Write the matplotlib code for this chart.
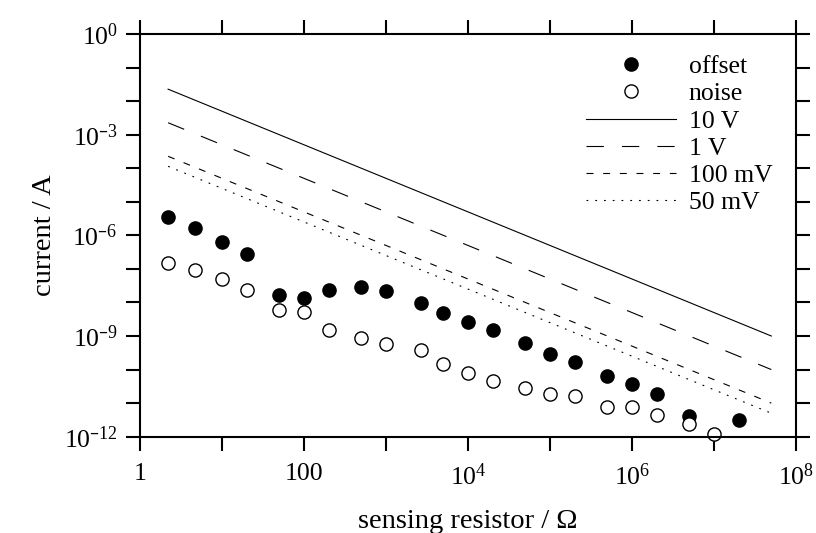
import matplotlib
matplotlib.use("Agg")
import matplotlib.pyplot as plt
from matplotlib.ticker import FixedLocator, FixedFormatter, NullLocator

r_offset = [2.2, 4.7, 10, 20, 50, 100, 200, 500, 1e3, 2.7e3, 5e3, 1e4, 2e4, 5e4,
            1e5, 2e5, 5e5, 1e6, 2e6, 5e6, 2e7]
i_offset = [3.5e-6, 1.66e-6, 6.5e-7, 2.8e-7, 1.7e-8, 1.35e-8, 2.3e-8, 2.9e-8, 2.2e-8,
            9.5e-9, 4.9e-9, 2.6e-9, 1.55e-9, 6.3e-10, 3e-10, 1.65e-10, 6.6e-11,
            3.8e-11, 1.9e-11, 4e-12, 3.2e-12]

r_noise = [2.2, 4.7, 10, 20, 50, 100, 200, 500, 1e3, 2.7e3, 5e3, 1e4, 2e4, 5e4,
           1e5, 2e5, 5e5, 1e6, 2e6, 5e6, 1e7]
i_noise = [1.5e-7, 9e-8, 4.9e-8, 2.3e-8, 5.8e-9, 5.2e-9, 1.55e-9, 8.7e-10, 5.7e-10,
           3.9e-10, 1.45e-10, 8e-11, 4.7e-11, 2.9e-11, 1.9e-11, 1.6e-11, 7.8e-12,
           7.5e-12, 4.4e-12, 2.4e-12, 1.2e-12]

# voltage limit lines (end points)
r_line = [2.2, 5e7]
i_10v = [2.27e-2, 1e-9]
i_1v = [2.27e-3, 1e-10]
i_100mv = [2.27e-4, 1e-11]
i_50mv = [1.14e-4, 5e-12]

x_ticks = [1, 10, 100, 1e3, 1e4, 1e5, 1e6, 1e7, 1e8]
x_labels = ["1", "", "100", "", r"$10^{4}$", "", r"$10^{6}$", "", r"$10^{8}$"]
y_ticks = [10.0 ** k for k in range(-12, 1)]
y_labels = [r"$10^{%d}$" % k if k % 3 == 0 else "" for k in range(-12, 1)]
y_labels = [s.replace("-", "\u2013") for s in y_labels]


def main():
    plt.rcParams["font.family"] = ["Liberation Serif", "DejaVu Serif"]
    plt.rcParams["mathtext.default"] = "regular"
    plt.rcParams["lines.scale_dashes"] = False
    fs = 18.5
    fs_lab = 20.5

    fig = plt.figure(figsize=(8.16, 5.33), dpi=100)
    ax = fig.add_axes([0.1716, 0.1807, 0.9755 - 0.1716, 0.9362 - 0.1807])

    lw = 0.8
    ax.plot(r_line, i_10v, color="black", lw=lw, label="10 V")
    ax.plot(r_line, i_1v, color="black", lw=lw, dashes=(12.5, 13), label="1 V")
    ax.plot(r_line, i_100mv, color="black", lw=lw, dashes=(5, 7), label="100 mV")
    ax.plot(r_line, i_50mv, color="black", lw=lw, dashes=(1.3, 5), label="50 mV")

    ax.plot(r_offset, i_offset, "o", color="black", ms=9.5, label="offset", clip_on=False)
    ax.plot(r_noise, i_noise, "o", mfc="white", mec="black", mew=1.0, ms=9.5,
            label="noise", clip_on=False)

    ax.set_xscale("log")
    ax.set_yscale("log")
    ax.set_xlim(1, 1e8)
    ax.set_ylim(1e-12, 1)

    ax.xaxis.set_major_locator(FixedLocator(x_ticks))
    ax.xaxis.set_major_formatter(FixedFormatter(x_labels))
    ax.xaxis.set_minor_locator(NullLocator())
    ax.yaxis.set_major_locator(FixedLocator(y_ticks))
    ax.yaxis.set_major_formatter(FixedFormatter(y_labels))
    ax.yaxis.set_minor_locator(NullLocator())

    ax.tick_params(which="both", direction="out", length=10, width=1.5,
                   top=True, right=True, labelsize=fs)
    ax.tick_params(axis="x", pad=9)
    ax.tick_params(axis="y", pad=6)
    for sp in ax.spines.values():
        sp.set_linewidth(1.5)

    ax.set_xlabel("sensing resistor / \u03a9", fontsize=fs_lab, labelpad=14)
    ax.set_ylabel("current / A", fontsize=fs_lab, labelpad=5)

    h, l = ax.get_legend_handles_labels()
    order = [4, 5, 0, 1, 2, 3]
    ax.legend([h[i] for i in order], [l[i] for i in order], loc="upper left",
              bbox_to_anchor=(0.68, 0.947), frameon=False, fontsize=fs,
              handlelength=3.5, handletextpad=0.5, labelspacing=0.16,
              borderpad=0, borderaxespad=0, numpoints=1)

    fig.savefig("out.png", dpi=100)


if __name__ == "__main__":
    main()
